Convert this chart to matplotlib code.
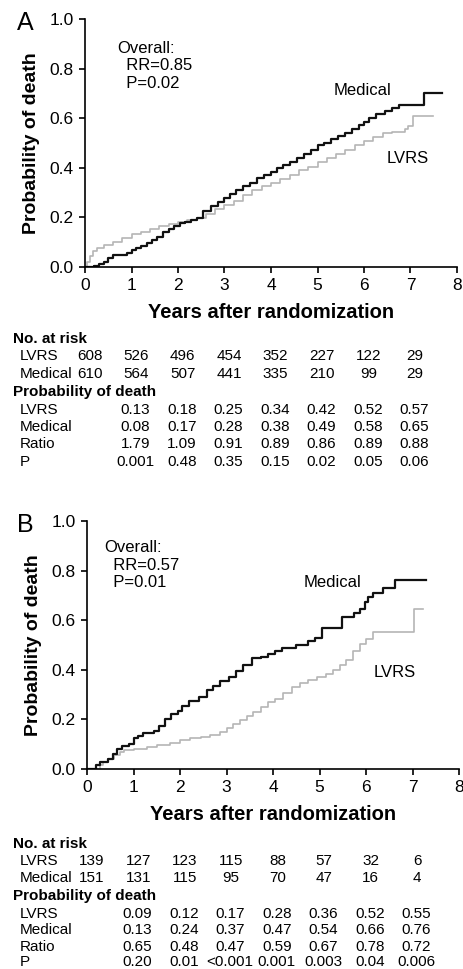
import numpy as np
import matplotlib
matplotlib.use('Agg')
import matplotlib.pyplot as plt
from matplotlib.transforms import blended_transform_factory

plt.rcParams['font.family'] = ['Liberation Sans', 'DejaVu Sans']

# ---- panel A curves (years, probability of death)
a_med_t = [0, 0.12, 0.2, 0.3, 0.4, 0.5, 0.6, 0.9, 1.0, 1.1, 1.2, 1.33, 1.45, 1.55, 1.68,
           1.8, 1.92, 2.04, 2.15, 2.29, 2.4, 2.54, 2.7, 2.85, 3.0, 3.12, 3.25, 3.4, 3.55,
           3.7, 3.85, 4.0, 4.12, 4.25, 4.4, 4.55, 4.7, 4.85, 5.0, 5.15, 5.3, 5.45, 5.6,
           5.75, 5.9, 6.0, 6.1, 6.25, 6.45, 6.6, 6.75, 7.29, 7.67]
a_med_p = [0, 0, 0.006, 0.013, 0.022, 0.035, 0.048, 0.055, 0.07, 0.078, 0.086, 0.096, 0.11,
           0.122, 0.14, 0.152, 0.165, 0.177, 0.183, 0.19, 0.198, 0.224, 0.245, 0.262, 0.28,
           0.295, 0.31, 0.325, 0.34, 0.357, 0.37, 0.383, 0.4, 0.41, 0.425, 0.44, 0.455,
           0.47, 0.49, 0.5, 0.515, 0.53, 0.542, 0.555, 0.572, 0.585, 0.6, 0.615, 0.628,
           0.64, 0.653, 0.703, 0.703]
a_lvrs_t = [0, 0.04, 0.1, 0.18, 0.25, 0.4, 0.6, 0.8, 1.0, 1.2, 1.4, 1.6, 1.8, 2.0, 2.2, 2.4,
            2.6, 2.8, 3.0, 3.2, 3.4, 3.6, 3.8, 4.0, 4.2, 4.4, 4.6, 4.8, 5.0, 5.2, 5.4, 5.6,
            5.8, 6.0, 6.2, 6.4, 6.6, 6.88, 6.95, 7.05, 7.48]
a_lvrs_p = [0, 0.02, 0.045, 0.065, 0.078, 0.088, 0.1, 0.118, 0.132, 0.142, 0.152, 0.165,
            0.172, 0.18, 0.19, 0.198, 0.212, 0.232, 0.25, 0.268, 0.29, 0.31, 0.325, 0.34,
            0.355, 0.372, 0.39, 0.405, 0.422, 0.44, 0.455, 0.47, 0.49, 0.51, 0.525, 0.54,
            0.545, 0.555, 0.57, 0.61, 0.61]

# ---- panel B curves
b_med_t = [0, 0.14, 0.2, 0.28, 0.45, 0.55, 0.65, 0.75, 0.9, 1.0, 1.1, 1.2, 1.45, 1.55, 1.68,
           1.8, 1.95, 2.05, 2.2, 2.4, 2.57, 2.7, 2.86, 3.05, 3.2, 3.36, 3.55, 3.75, 3.9,
           4.05, 4.2, 4.5, 4.75, 4.9, 5.05, 5.48, 5.75, 5.88, 5.97, 6.05, 6.15, 6.37, 6.62, 7.3]
b_med_p = [0, 0, 0.015, 0.03, 0.04, 0.06, 0.08, 0.093, 0.1, 0.125, 0.135, 0.144, 0.155,
           0.175, 0.2, 0.222, 0.235, 0.255, 0.275, 0.29, 0.32, 0.335, 0.355, 0.37, 0.395,
           0.418, 0.447, 0.452, 0.462, 0.475, 0.487, 0.5, 0.515, 0.53, 0.567, 0.612, 0.628,
           0.645, 0.675, 0.695, 0.708, 0.73, 0.762, 0.762]
b_lvrs_t = [0, 0.2, 0.28, 0.35, 0.45, 0.57, 0.7, 0.8, 1.0, 1.28, 1.5, 1.78, 2.0, 2.21, 2.45,
            2.65, 2.85, 3.0, 3.15, 3.29, 3.45, 3.58, 3.75, 3.9, 4.05, 4.22, 4.4, 4.58, 4.75,
            4.95, 5.15, 5.3, 5.45, 5.58, 5.72, 5.87, 6.0, 6.16, 7.03, 7.23]
b_lvrs_p = [0, 0, 0.015, 0.03, 0.04, 0.056, 0.07, 0.078, 0.082, 0.09, 0.096, 0.106, 0.115,
            0.124, 0.13, 0.137, 0.15, 0.164, 0.18, 0.198, 0.215, 0.228, 0.25, 0.27, 0.282,
            0.305, 0.33, 0.346, 0.36, 0.37, 0.385, 0.4, 0.42, 0.44, 0.475, 0.505, 0.525,
            0.552, 0.644, 0.644]

# ---- tables under the panels
a_risk_lvrs = ['608', '526', '496', '454', '352', '227', '122', '29']
a_risk_med = ['610', '564', '507', '441', '335', '210', '99', '29']
a_pd_lvrs = ['0.13', '0.18', '0.25', '0.34', '0.42', '0.52', '0.57']
a_pd_med = ['0.08', '0.17', '0.28', '0.38', '0.49', '0.58', '0.65']
a_ratio = ['1.79', '1.09', '0.91', '0.89', '0.86', '0.89', '0.88']
a_p = ['0.001', '0.48', '0.35', '0.15', '0.02', '0.05', '0.06']

b_risk_lvrs = ['139', '127', '123', '115', '88', '57', '32', '6']
b_risk_med = ['151', '131', '115', '95', '70', '47', '16', '4']
b_pd_lvrs = ['0.09', '0.12', '0.17', '0.28', '0.36', '0.52', '0.55']
b_pd_med = ['0.13', '0.24', '0.37', '0.47', '0.54', '0.66', '0.76']
b_ratio = ['0.65', '0.48', '0.47', '0.59', '0.67', '0.78', '0.72']
b_p = ['0.20', '0.01', '<0.001', '0.001', '0.003', '0.04', '0.006']

W, H = 463, 969
fig = plt.figure(figsize=(W / 100, H / 100), dpi=100)


def panel(left, top, letter, med, lvrs, rr, pval, ann_xy, med_xy, lvrs_xy):
    ax = fig.add_axes([left / W, 1 - (top + 248) / H, 372 / W, 248 / H])
    ax.plot(lvrs[0], lvrs[1], drawstyle='steps-post', color='#b5b5b5', lw=1.2)
    ax.plot(med[0], med[1], drawstyle='steps-post', color='#111111', lw=1.6)
    ax.set_xlim(0, 8)
    ax.set_ylim(0, 1)
    ax.set_xticks(range(9))
    ax.set_yticks(np.arange(0, 1.01, 0.2))
    ax.set_yticklabels(['%.1f' % v for v in np.arange(0, 1.01, 0.2)])
    for s in ['top', 'right']:
        ax.spines[s].set_visible(False)
    for s in ['left', 'bottom']:
        ax.spines[s].set_linewidth(1.2)
    ax.tick_params(direction='out', length=4, width=1.2, labelsize=12.5, pad=4)
    ax.set_xlabel('Years after randomization', fontsize=14.5, fontweight='bold', labelpad=7)
    ax.set_ylabel('Probability of death', fontsize=14, fontweight='bold', labelpad=7)
    ax.text(ann_xy[0], ann_xy[1], 'Overall:\n  RR=%s\n  P=%s' % (rr, pval),
            fontsize=12, va='top', ha='left', linespacing=1.2)
    ax.text(med_xy[0], med_xy[1], 'Medical', fontsize=12, ha='center', va='center')
    ax.text(lvrs_xy[0], lvrs_xy[1], 'LVRS', fontsize=12, ha='center', va='center')
    fig.text(25 / W, 1 - (top + 4) / H, letter, fontsize=18, ha='center', va='center')
    return ax


def table(ax, rows, risk_lvrs, risk_med, pd_lvrs, pd_med, ratio, p):
    # rows: baseline of each table line, pixels from the top
    tr = blended_transform_factory(ax.transData, fig.transFigure)
    fy = lambda px: 1 - px / H
    fs = 11
    fig.text(13 / W, fy(rows[0]), 'No. at risk', fontsize=fs, fontweight='bold', va='baseline')
    fig.text(13 / W, fy(rows[3]), 'Probability of death', fontsize=fs, fontweight='bold',
             va='baseline')
    labels = ['LVRS', 'Medical', None, 'LVRS', 'Medical', 'Ratio', 'P']
    for lab, r in zip(labels, rows[1:]):
        if lab:
            fig.text(20 / W, fy(r), lab, fontsize=fs, va='baseline')
    for i, v in enumerate(risk_lvrs):
        ax.text(i + 0.1, fy(rows[1]), v, transform=tr, fontsize=fs, ha='center', va='baseline')
    for i, v in enumerate(risk_med):
        ax.text(i + 0.1, fy(rows[2]), v, transform=tr, fontsize=fs, ha='center', va='baseline')
    for vals, r in zip([pd_lvrs, pd_med, ratio, p], rows[4:]):
        for i, v in enumerate(vals):
            ax.text(i + 1.08, fy(r), v, transform=tr, fontsize=fs, ha='center', va='baseline')


axA = panel(85, 19, 'A', (a_med_t, a_med_p), (a_lvrs_t, a_lvrs_p), '0.85', '0.02',
            (0.69, 0.912), (5.96, 0.713), (6.95, 0.437))
table(axA, [343, 360.5, 378, 396, 413.5, 431, 448.5, 465.5],
      a_risk_lvrs, a_risk_med, a_pd_lvrs, a_pd_med, a_ratio, a_p)

axB = panel(87, 521, 'B', (b_med_t, b_med_p), (b_lvrs_t, b_lvrs_p), '0.57', '0.01',
            (0.37, 0.922), (5.27, 0.754), (6.62, 0.39))
table(axB, [848, 865, 882, 900, 917.5, 934.5, 951, 965.5],
      b_risk_lvrs, b_risk_med, b_pd_lvrs, b_pd_med, b_ratio, b_p)

fig.savefig('out.png', dpi=100)
